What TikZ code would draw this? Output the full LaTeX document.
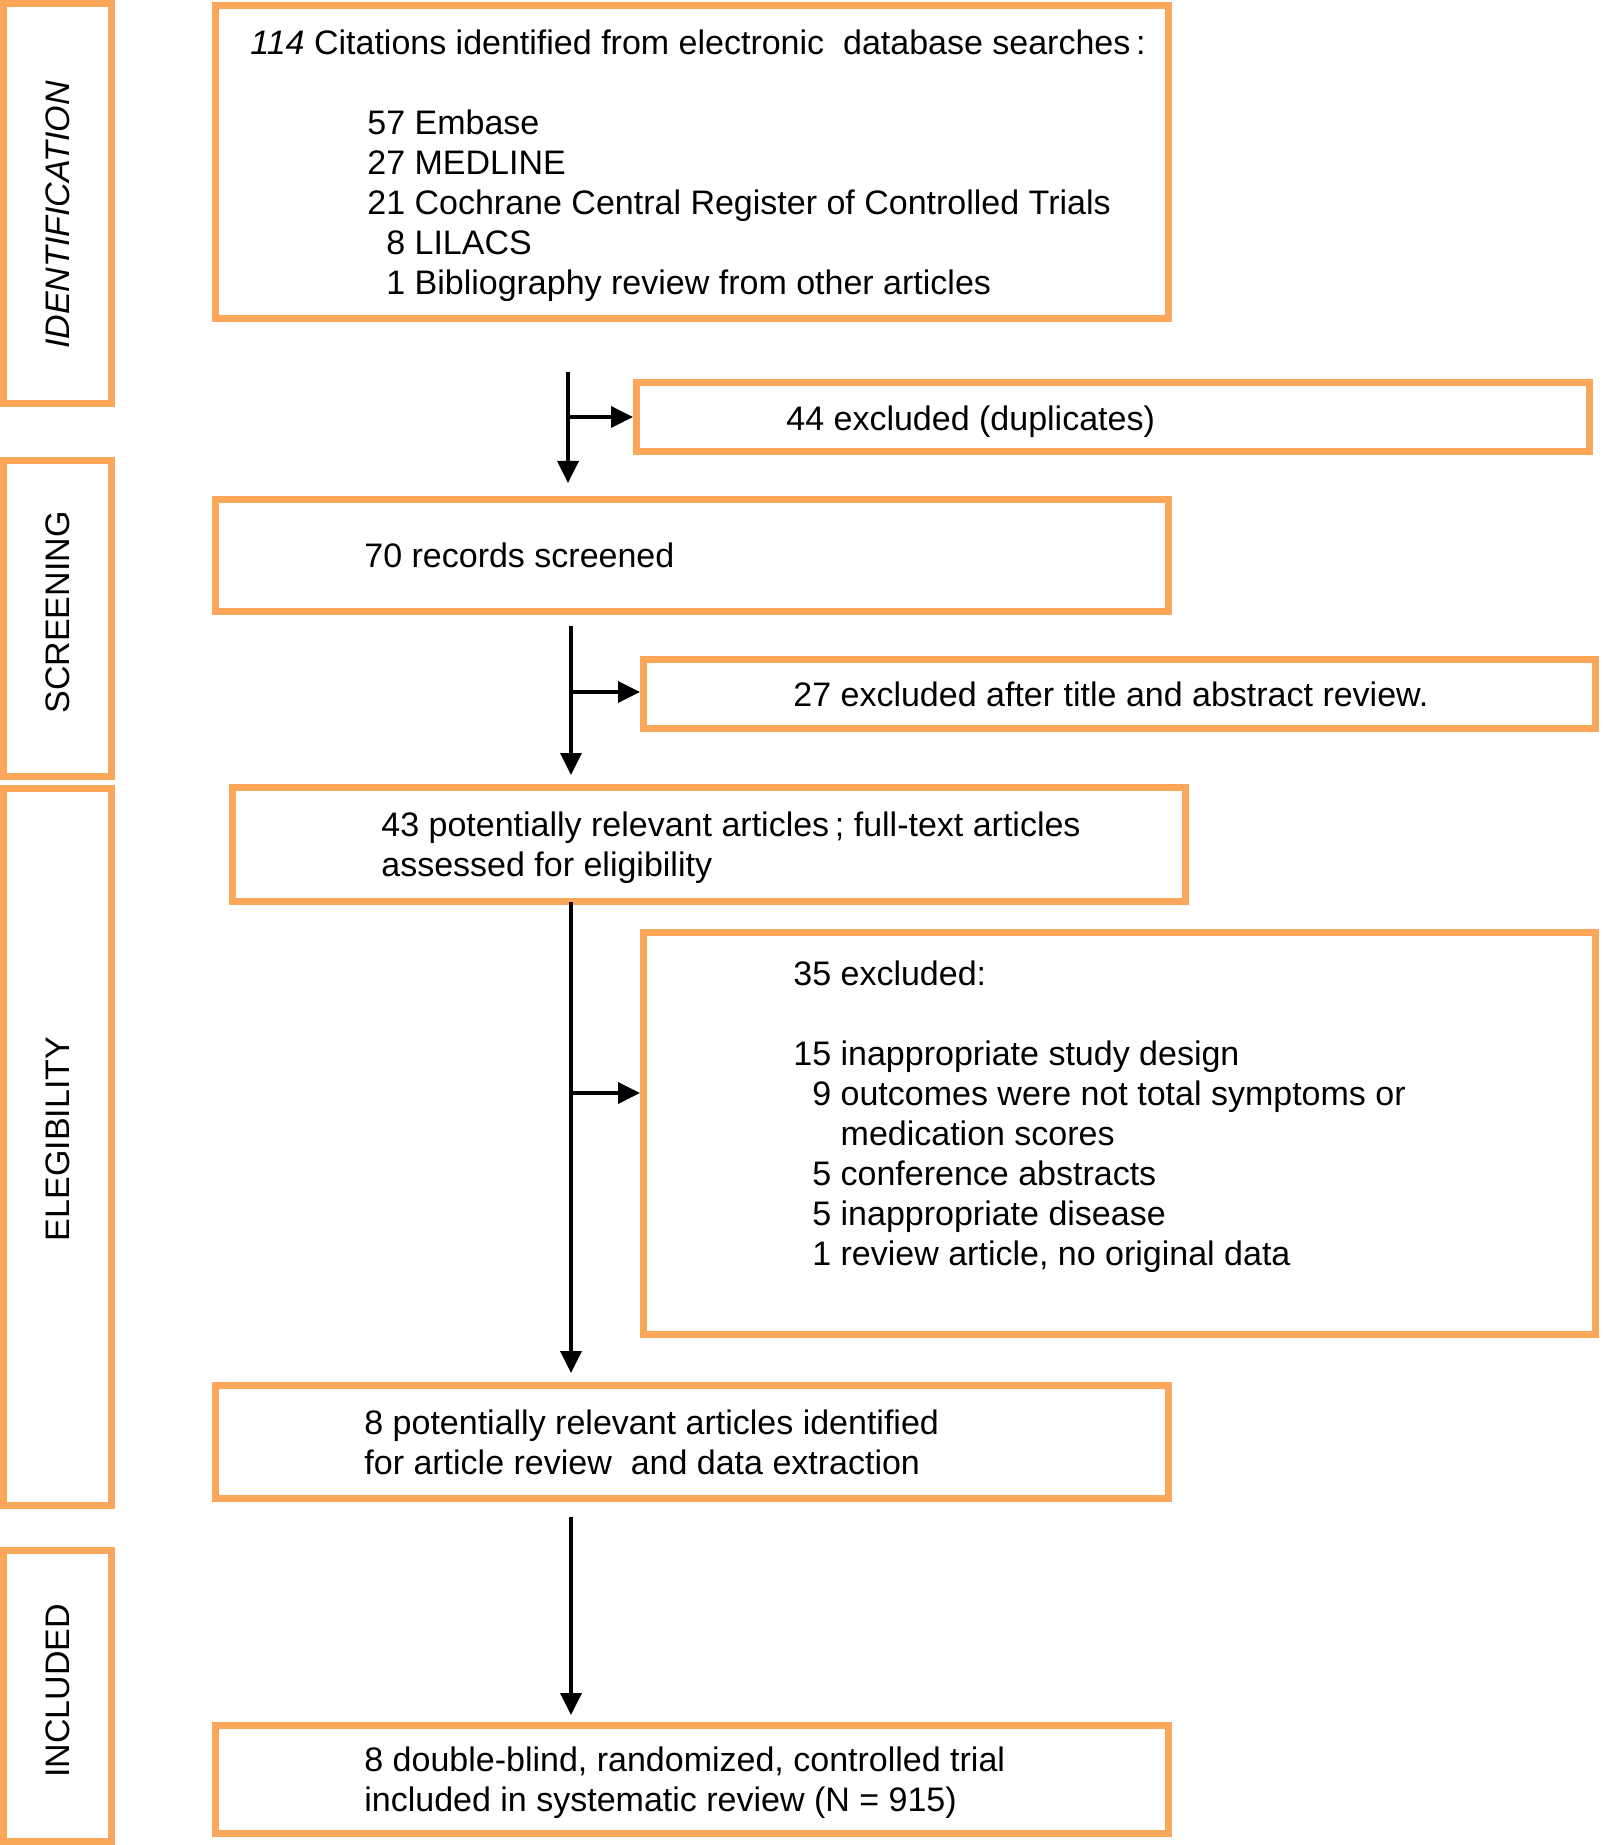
\documentclass[tikz,border=0pt]{standalone}
\usepackage{fontspec}
\setmainfont{Liberation Sans}
\usepackage{tikz}
\usetikzlibrary{arrows.meta,positioning,calc}
\definecolor{boxorange}{RGB}{250,167,89}

\begin{document}
\begin{tikzpicture}[x=0.5pt, y=-0.5pt,
    box/.style={rectangle, draw=boxorange, line width=3.5pt, minimum width=476.5pt, inner sep=0pt, outer sep=0pt},
    sidebox/.style={rectangle, draw=boxorange, line width=3.5pt, minimum width=54pt, inner sep=0pt, outer sep=0pt, font=\fontsize{17}{20}\selectfont},
    txt/.style={anchor=west, align=left, inner sep=0pt, font=\fontsize{17}{20}\selectfont},
    arrow/.style={-{Triangle[length=11pt, width=10.5pt]}, line width=1.8pt}
]
\useasboundingbox (0,0) rectangle (1602,1845);

\node[sidebox, minimum height=200pt] (sident) at (57.5,203.5) {\rotatebox{90}{\textit{IDENTIFICATION}\hspace{11.5pt}}};
\node[sidebox, minimum height=158pt] (sscr) at (57.5,618.5) {\rotatebox{90}{\hspace{6pt}SCREENING}};
\node[sidebox, minimum height=358.5pt] (selig) at (57.5,1147) {\rotatebox{90}{\hspace{8pt}ELEGIBILITY}};
\node[sidebox, minimum height=145.5pt] (sincl) at (57.5,1696) {\rotatebox{90}{\hspace{5pt}INCLUDED}};

\node[box, minimum height=156.5pt] (ident) at (692,162) {};
\node[box, minimum height=34.5pt] (dupl) at (1113,417) {};
\node[box, minimum height=56pt] (scr) at (692,555.5) {};
\node[box, minimum width=476pt, minimum height=34.5pt] (titl) at (1119.5,694) {};
\node[box, minimum height=57pt] (elig) at (709,844.5) {};
\node[box, minimum width=476pt, minimum height=201pt] (excl) at (1119.5,1133.5) {};
\node[box, minimum height=56.5pt] (full) at (692,1442) {};
\node[box, minimum height=54pt] (incl) at (692,1779.5) {};

\node[txt] (identtxt) at ([xshift=17.25pt, yshift=-2pt]ident.west) {\textit{114} Citations identified from electronic\ \ database searches\,:\\[20pt]
    \hspace*{58.5pt}57 Embase\\
    \hspace*{58.5pt}27 MEDLINE\\
    \hspace*{58.5pt}21 Cochrane Central\ Register of Controlled Trials\\
    \hspace*{58.5pt}\hphantom{0}8 LILACS\\
    \hspace*{58.5pt}\hphantom{0}1 Bibliography review from other articles};
\node[txt] (dupltxt) at ([xshift=74.75pt, yshift=-2.3pt]dupl.west) {44 excluded (duplicates)};
\node[txt] (scrtxt) at ([xshift=74.25pt]scr.west) {70 records screened};
\node[txt] (titltxt) at ([xshift=74.75pt]titl.west) {27 excluded after title and abstract review.};
\node[txt] (eligtxt) at ([xshift=74.25pt, yshift=-1.5pt]elig.west) {43 potentially relevant articles\,; full-text articles\\
    assessed for eligibility};
\node[txt] (excltxt) at ([xshift=74.75pt, yshift=8.5pt]excl.west) {35 excluded:\\[20pt]
    15 inappropriate study design\\
    \hphantom{0}9 outcomes were not total symptoms or\\
    \hphantom{00\ }medication scores\\
    \hphantom{0}5 conference abstracts\\
    \hphantom{0}5 inappropriate disease\\
    \hphantom{0}1 review article, no original data};
\node[txt] (fulltxt) at ([xshift=74.25pt]full.west) {8 potentially relevant articles identified\\
    for article review\ \ and data extraction};
\node[txt] (incltxt) at ([xshift=74.25pt, yshift=-1.5pt]incl.west) {8 double-blind, randomized, controlled trial\\
    included in systematic review (N = 915)};

\coordinate (j1) at (568,417);
\coordinate (j2) at (571,692);
\coordinate (j3) at (571,1093);

\draw[arrow, shorten <=26.75pt, shorten >=8.25pt] (ident.south -| j1) -- (scr.north -| j1);
\draw[arrow, shorten >=1.75pt] (j1) -- (j1 -| dupl.west);
\draw[arrow, shorten <=7.25pt, shorten >=6.25pt] (scr.south -| j2) -- (elig.north -| j2);
\draw[arrow, shorten >=1.75pt] (j2) -- (j2 -| titl.west);
\draw[arrow, shorten >=6.25pt] (elig.south -| j3) -- (full.north -| j3);
\draw[arrow, shorten >=1.75pt] (j3) -- (j3 -| excl.west);
\draw[arrow, shorten <=9.25pt, shorten >=5.25pt] (full.south -| j3) -- (incl.north -| j3);
\end{tikzpicture}
\end{document}
